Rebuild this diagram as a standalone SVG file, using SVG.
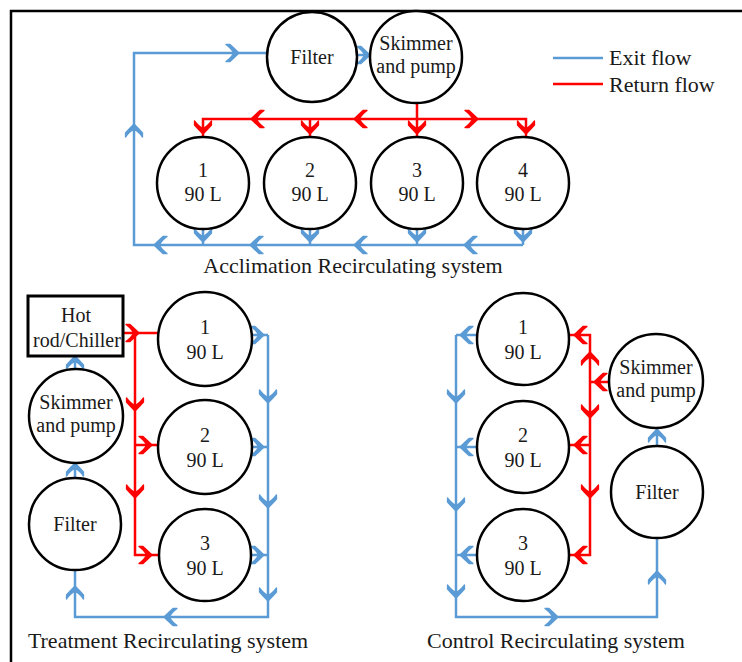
<svg xmlns="http://www.w3.org/2000/svg" xmlns:xlink="http://www.w3.org/1999/xlink" width="742" height="662" viewBox="0 0 742 662">
<style>
.bg{fill:#ffffff}
.node{fill:#ffffff;stroke:#000000;stroke-width:2.5}
.box{fill:#ffffff;stroke:#000000;stroke-width:3}
.b{fill:none;stroke:#5B9BD5;stroke-width:2.5}
.r{fill:none;stroke:#FF0000;stroke-width:2.5}
.ba{fill:#5B9BD5;stroke:#5B9BD5;stroke-width:1.3;stroke-linejoin:round}
.ra{fill:#FF0000;stroke:#FF0000;stroke-width:1.3;stroke-linejoin:round}
text{font-family:"Liberation Serif","Times New Roman",serif;font-size:20px;fill:#1a1a1a;text-anchor:middle}
.t{font-size:22px}
.lg{font-size:22px;text-anchor:start}
.border{fill:none;stroke:#000000;stroke-width:2.5}
</style>
<defs>
<path id="ch" d="M-7,-8.5 L-3,-8.5 Q2,-4 6,0 Q2,4 -3,8.5 L-7,8.5 Q-1,4 0.5,0 Q-1,-4 -7,-8.5 Z"/>
</defs>
<rect class="bg" x="0" y="0" width="742" height="662"/>
<path class="border" d="M742,11 H11 V662"/>

<g id="connectors">
  <!-- Acclimation: exit flow (blue) -->
  <path class="b" d="M203,229 V245 M310,229 V245 M417,229 V245 M523,229 V245 M523,245 H134 V53 H268 M354,55 H371"/>
  <use href="#ch" class="ba" transform="translate(233,53)"/>
  <use href="#ch" class="ba" transform="translate(364,55)"/>
  <use href="#ch" class="ba" transform="translate(134,130) rotate(-90)"/>
  <use href="#ch" class="ba" transform="translate(203,236) rotate(90)"/>
  <use href="#ch" class="ba" transform="translate(310,236) rotate(90)"/>
  <use href="#ch" class="ba" transform="translate(417,236) rotate(90)"/>
  <use href="#ch" class="ba" transform="translate(523,236) rotate(90)"/>
  <use href="#ch" class="ba" transform="translate(160,245) rotate(180)"/>
  <use href="#ch" class="ba" transform="translate(256,245) rotate(180)"/>
  <use href="#ch" class="ba" transform="translate(360,245) rotate(180)"/>
  <use href="#ch" class="ba" transform="translate(470,245) rotate(180)"/>
  <!-- Acclimation: return flow (red) -->
  <path class="r" d="M417,103 V137 M203,137 V119 H526 V139 M310,119 V137"/>
  <use href="#ch" class="ra" transform="translate(257,119) rotate(180)"/>
  <use href="#ch" class="ra" transform="translate(360,119) rotate(180)"/>
  <use href="#ch" class="ra" transform="translate(472,119)"/>
  <use href="#ch" class="ra" transform="translate(203,128) rotate(90)"/>
  <use href="#ch" class="ra" transform="translate(310,128) rotate(90)"/>
  <use href="#ch" class="ra" transform="translate(417,128) rotate(90)"/>
  <use href="#ch" class="ra" transform="translate(526,128) rotate(90)"/>

  <!-- Treatment: return flow (red) -->
  <path class="r" d="M123,333 H159 M135,333 V555 H159 M135,445 H159"/>
  <use href="#ch" class="ra" transform="translate(133,333)"/>
  <use href="#ch" class="ra" transform="translate(146,445)"/>
  <use href="#ch" class="ra" transform="translate(146,555)"/>
  <use href="#ch" class="ra" transform="translate(135,405) rotate(90)"/>
  <use href="#ch" class="ra" transform="translate(135,492) rotate(90)"/>
  <!-- Treatment: exit flow (blue) -->
  <path class="b" d="M251,335 H268 M251,447 H268 M251,555 H268 M268,335 V617 H75 V570 M75,478 V463 M75,369 V356"/>
  <use href="#ch" class="ba" transform="translate(258,335)"/>
  <use href="#ch" class="ba" transform="translate(258,447)"/>
  <use href="#ch" class="ba" transform="translate(258,555)"/>
  <use href="#ch" class="ba" transform="translate(268,397) rotate(90)"/>
  <use href="#ch" class="ba" transform="translate(268,502) rotate(90)"/>
  <use href="#ch" class="ba" transform="translate(268,595) rotate(90)"/>
  <use href="#ch" class="ba" transform="translate(170,617) rotate(180)"/>
  <use href="#ch" class="ba" transform="translate(75,592) rotate(-90)"/>
  <use href="#ch" class="ba" transform="translate(75,469) rotate(-90)"/>
  <use href="#ch" class="ba" transform="translate(75,362) rotate(-90)"/>

  <!-- Control: exit flow (blue) -->
  <path class="b" d="M478,335 H456 M478,447 H456 M478,555 H456 M456,335 V617 H657 V538 M657,446 V427"/>
  <use href="#ch" class="ba" transform="translate(466,335) rotate(180)"/>
  <use href="#ch" class="ba" transform="translate(466,447) rotate(180)"/>
  <use href="#ch" class="ba" transform="translate(466,555) rotate(180)"/>
  <use href="#ch" class="ba" transform="translate(456,397) rotate(90)"/>
  <use href="#ch" class="ba" transform="translate(456,505) rotate(90)"/>
  <use href="#ch" class="ba" transform="translate(456,592) rotate(90)"/>
  <use href="#ch" class="ba" transform="translate(552,617)"/>
  <use href="#ch" class="ba" transform="translate(657,577) rotate(-90)"/>
  <use href="#ch" class="ba" transform="translate(657,435) rotate(-90)"/>
  <!-- Control: return flow (red) -->
  <path class="r" d="M569,335 H590 V555 H569 M569,445 H590 M609,382 H590"/>
  <use href="#ch" class="ra" transform="translate(580,335) rotate(180)"/>
  <use href="#ch" class="ra" transform="translate(580,445) rotate(180)"/>
  <use href="#ch" class="ra" transform="translate(580,555) rotate(180)"/>
  <use href="#ch" class="ra" transform="translate(600,382) rotate(180)"/>
  <use href="#ch" class="ra" transform="translate(590,358) rotate(-90)"/>
  <use href="#ch" class="ra" transform="translate(590,412) rotate(90)"/>
  <use href="#ch" class="ra" transform="translate(590,492) rotate(90)"/>
</g>

<!-- Acclimation nodes -->
<g id="acc-filter"><circle class="node" cx="312" cy="57" r="45"/><text x="312" y="64">Filter</text></g>
<g id="acc-skimmer"><circle class="node" cx="416" cy="57" r="46"/><text x="416" y="50">Skimmer</text><text x="416" y="73">and pump</text></g>
<g id="acc-tank1"><circle class="node" cx="203" cy="183" r="46"/><text x="203" y="177">1</text><text x="203" y="201">90 L</text></g>
<g id="acc-tank2"><circle class="node" cx="310" cy="183" r="46"/><text x="310" y="177">2</text><text x="310" y="201">90 L</text></g>
<g id="acc-tank3"><circle class="node" cx="417" cy="183" r="46"/><text x="417" y="177">3</text><text x="417" y="201">90 L</text></g>
<g id="acc-tank4"><circle class="node" cx="523" cy="183" r="46"/><text x="523" y="177">4</text><text x="523" y="201">90 L</text></g>
<text class="t" x="353" y="273">Acclimation Recirculating system</text>

<!-- Legend -->
<g id="legend">
  <line class="b" x1="553" y1="58" x2="603" y2="58"/>
  <text class="lg" x="609" y="65">Exit flow</text>
  <line class="r" x1="553" y1="84" x2="603" y2="84"/>
  <text class="lg" x="609" y="92">Return flow</text>
</g>

<!-- Treatment nodes -->
<g id="tr-heater"><rect class="box" x="28" y="296" width="95" height="60"/><text x="76" y="322">Hot</text><text x="77" y="347">rod/Chiller</text></g>
<g id="tr-skimmer"><circle class="node" cx="76" cy="416" r="47"/><text x="76" y="409">Skimmer</text><text x="76" y="432">and pump</text></g>
<g id="tr-filter"><circle class="node" cx="75" cy="524" r="46"/><text x="75" y="531">Filter</text></g>
<g id="tr-tank1"><circle class="node" cx="205" cy="339" r="47"/><text x="205" y="334">1</text><text x="205" y="359">90 L</text></g>
<g id="tr-tank2"><circle class="node" cx="205" cy="447" r="47"/><text x="205" y="442">2</text><text x="205" y="467">90 L</text></g>
<g id="tr-tank3"><circle class="node" cx="205" cy="555" r="46"/><text x="205" y="550">3</text><text x="205" y="575">90 L</text></g>
<text class="t" x="168" y="648">Treatment Recirculating system</text>

<!-- Control nodes -->
<g id="ct-tank1"><circle class="node" cx="523" cy="339" r="46"/><text x="523" y="334">1</text><text x="523" y="359">90 L</text></g>
<g id="ct-tank2"><circle class="node" cx="523" cy="447" r="46"/><text x="523" y="442">2</text><text x="523" y="467">90 L</text></g>
<g id="ct-tank3"><circle class="node" cx="523" cy="555" r="46"/><text x="523" y="550">3</text><text x="523" y="575">90 L</text></g>
<g id="ct-skimmer"><circle class="node" cx="656" cy="381" r="47"/><text x="656" y="374">Skimmer</text><text x="656" y="397">and pump</text></g>
<g id="ct-filter"><circle class="node" cx="657" cy="492" r="46"/><text x="657" y="499">Filter</text></g>
<text class="t" x="556" y="648">Control Recirculating system</text>
</svg>
